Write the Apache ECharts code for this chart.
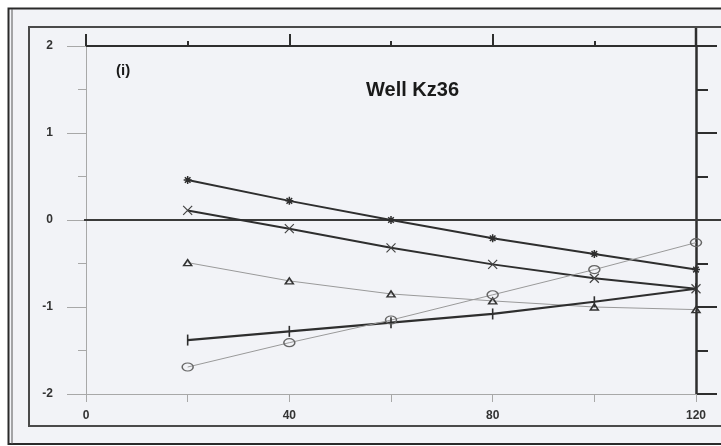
<!DOCTYPE html>
<html>
<head>
<meta charset="utf-8">
<style>
  html, body { margin: 0; padding: 0; background: #fff; }
  #chart { width: 721px; height: 446px; }
</style>
<script src="https://cdn.jsdelivr.net/npm/echarts@6/dist/echarts.min.js"></script>
</head>
<body>
<div id="chart"></div>
<script>
// Depth positions along the profile
const depths = [20, 40, 60, 80, 100, 120];

// Five measured curves for well Kz36
const starCurve     = [0.46, 0.22, 0.00, -0.21, -0.39, -0.57];
const crossCurve    = [0.11, -0.10, -0.32, -0.51, -0.67, -0.79];
const triangleCurve = [-0.49, -0.70, -0.85, -0.93, -1.00, -1.03];
const barCurve      = [-1.38, -1.28, -1.18, -1.08, -0.94, -0.79];
const circleCurve   = [-1.69, -1.41, -1.15, -0.86, -0.57, -0.26];

// Axis labelling
const xLabelValues = [0, 40, 80, 120];
const yLabelValues = [2, 1, 0, -1, -2];

const chartTitle = 'Well Kz36';
const panelTag = '(i)';

const pair = vals => depths.map((d, i) => [d, vals[i]]);

const DARK = '#2e2e2e';
const GREY = '#9a9a9a';

// Marker outlines
const starPath = 'path://M5,0L5,10M0,5L10,5M1.5,1.5L8.5,8.5M8.5,1.5L1.5,8.5';
const crossPath = 'path://M0,0L10,10M10,0L0,10';
const trianglePath = 'path://M0,9L5,0L10,9Z';
const ringPath = 'path://M0,5A5,5 0 1,1 10,5A5,5 0 1,1 0,5Z';

const chart = echarts.init(document.getElementById('chart'), null, { renderer: 'canvas' });

function curve(name, vals, opts) {
  return Object.assign({
    name: name,
    type: 'line',
    data: pair(vals),
    xAxisIndex: 0,
    yAxisIndex: 0,
    showSymbol: true,
    animation: false,
    z: 5
  }, opts);
}

const labelFont = { color: '#333', fontFamily: 'Liberation Sans, Arial, sans-serif', fontWeight: 'bold', fontSize: 12 };

const option = {
  backgroundColor: '#ffffff',
  animation: false,
  grid: { left: 86, right: 25, top: 46, bottom: 52, containLabel: false },
  xAxis: [
    {
      type: 'value', position: 'bottom', min: 0, max: 120, interval: 20,
      axisLine: { show: true, onZero: false, lineStyle: { color: '#a8a8a8', width: 1 } },
      axisTick: { show: true, length: 8, inside: false, lineStyle: { color: '#a8a8a8', width: 1 } },
      axisLabel: Object.assign({
        margin: 16,
        formatter: v => (xLabelValues.indexOf(v) >= 0 ? String(v) : '')
      }, labelFont),
      splitLine: { show: false }
    },
    {
      type: 'value', position: 'top', min: 0, max: 120, interval: 40,
      axisLine: { show: true, onZero: false, lineStyle: { color: DARK, width: 2 } },
      axisTick: { show: true, length: 12, inside: false, lineStyle: { color: DARK, width: 2 } },
      minorTick: { show: true, splitNumber: 2, length: 5, lineStyle: { color: DARK, width: 2 } },
      axisLabel: { show: false },
      splitLine: { show: false }
    }
  ],
  yAxis: [
    {
      type: 'value', position: 'left', min: -2, max: 2, interval: 1,
      axisLine: { show: true, onZero: false, lineStyle: { color: '#a8a8a8', width: 1 } },
      axisTick: { show: true, length: 19, inside: false, lineStyle: { color: '#a8a8a8', width: 1 } },
      minorTick: { show: true, splitNumber: 2, length: 8, lineStyle: { color: '#a8a8a8', width: 1 } },
      axisLabel: Object.assign({
        margin: 33,
        formatter: v => (yLabelValues.indexOf(v) >= 0 ? String(v) : '')
      }, labelFont),
      splitLine: { show: false }
    },
    {
      type: 'value', position: 'right', min: -2, max: 2, interval: 1,
      axisLine: { show: true, onZero: false, lineStyle: { color: DARK, width: 2.5 } },
      axisTick: { show: true, length: 21, inside: false, lineStyle: { color: DARK, width: 2 } },
      minorTick: { show: true, splitNumber: 2, length: 12, lineStyle: { color: DARK, width: 2 } },
      axisLabel: { show: false },
      splitLine: { show: false }
    }
  ],
  series: [
    curve('star', starCurve, {
      symbol: starPath, symbolSize: 8,
      lineStyle: { color: DARK, width: 2 },
      itemStyle: { color: 'none', borderColor: DARK, borderWidth: 1.5 }
    }),
    curve('cross', crossCurve, {
      symbol: crossPath, symbolSize: 9,
      lineStyle: { color: DARK, width: 2 },
      itemStyle: { color: 'none', borderColor: '#444', borderWidth: 1.2 }
    }),
    curve('triangle', triangleCurve, {
      symbol: trianglePath, symbolSize: [8, 6],
      lineStyle: { color: GREY, width: 1 },
      itemStyle: { color: 'none', borderColor: '#333', borderWidth: 1.5 }
    }),
    curve('bar', barCurve, {
      symbol: 'rect', symbolSize: [1.6, 11],
      lineStyle: { color: DARK, width: 2.2 },
      itemStyle: { color: DARK, borderWidth: 0 }
    }),
    curve('circle', circleCurve, {
      symbol: ringPath, symbolSize: [11, 8],
      lineStyle: { color: GREY, width: 1 },
      itemStyle: { color: 'none', borderColor: '#666', borderWidth: 1.3 }
    })
  ]
};

chart.setOption(option);

// Page frame, zero line and axis extensions, placed from the grid's own scale
const pTopLeft = chart.convertToPixel({ gridIndex: 0 }, [0, 2]);
const pBottomRight = chart.convertToPixel({ gridIndex: 0 }, [120, -2]);
const pZero = chart.convertToPixel({ gridIndex: 0 }, [0, 0]);
const gx0 = pTopLeft[0], gy0 = pTopLeft[1];
const gx1 = pBottomRight[0], gy1 = pBottomRight[1];

chart.setOption({
  graphic: [
    // scanned page
    { type: 'rect', z: -20, silent: true,
      shape: { x: 8.5, y: 8.5, width: 740, height: 435.5 },
      style: { fill: '#f2f3f7', stroke: '#2a2a2a', lineWidth: 2 } },
    { type: 'line', z: -19, silent: true,
      shape: { x1: 12, y1: 9, x2: 12, y2: 444 },
      style: { stroke: '#555', lineWidth: 1 } },
    // plot frame
    { type: 'rect', z: -18, silent: true,
      shape: { x: 29, y: 27, width: 720, height: 399 },
      style: { fill: 'none', stroke: '#4a4a4a', lineWidth: 2 } },
    // zero line
    { type: 'line', z: 1, silent: true,
      shape: { x1: gx0 - 2, y1: pZero[1], x2: 721, y2: pZero[1] },
      style: { stroke: '#3a3a3a', lineWidth: 2 } },
    // top axis line running past the right axis
    { type: 'line', z: 1, silent: true,
      shape: { x1: gx1, y1: gy0, x2: gx1 + 20, y2: gy0 },
      style: { stroke: DARK, lineWidth: 2 } },
    // right axis line rising above the top axis
    { type: 'line', z: 1, silent: true,
      shape: { x1: gx1, y1: gy0 - 18, x2: gx1, y2: gy0 },
      style: { stroke: DARK, lineWidth: 2.5 } },
    // labels
    { type: 'text', z: 6, silent: true, x: 116, y: 71,
      style: { text: panelTag, fill: '#1a1a1a', font: 'bold 15px "Liberation Sans", Arial, sans-serif',
               textVerticalAlign: 'middle' } },
    { type: 'text', z: 6, silent: true, x: 366, y: 90,
      style: { text: chartTitle, fill: '#1a1a1a', font: 'bold 20px "Liberation Sans", Arial, sans-serif',
               textVerticalAlign: 'middle' } }
  ]
});
</script>
</body>
</html>
